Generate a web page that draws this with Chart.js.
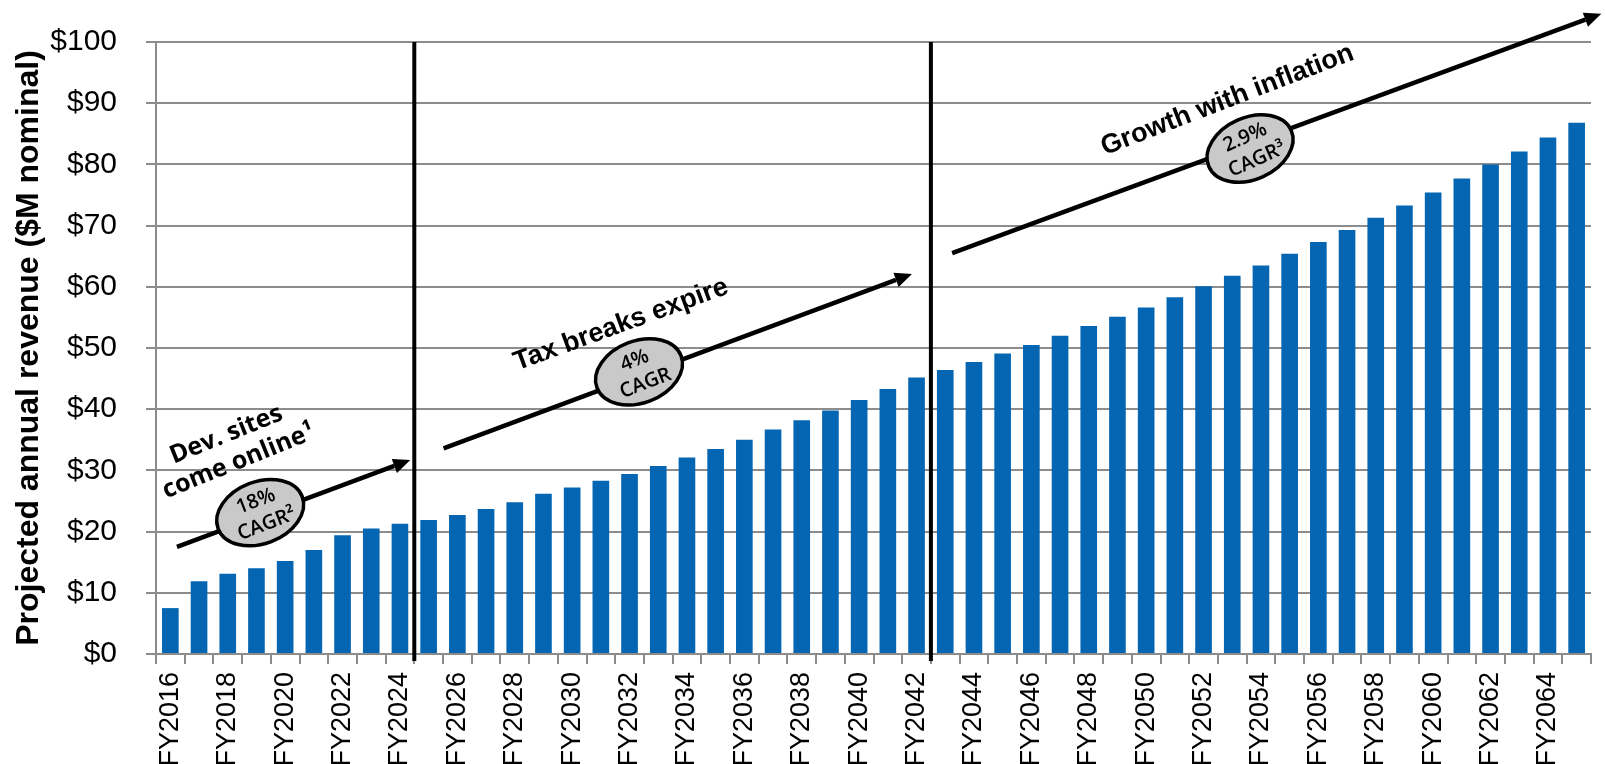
<!DOCTYPE html>
<html>
<head>
<meta charset="utf-8">
<script src="https://cdn.jsdelivr.net/npm/chart.js@4/dist/chart.umd.min.js"></script>
<style>
  html, body { margin: 0; padding: 0; background: #ffffff; }
  #wrap { width: 1605px; height: 764px; position: relative; }
</style>
</head>
<body>
<div id="wrap"><canvas id="c" width="1605" height="764"></canvas></div>
<script>
// ---------- DATA ----------
const years = [
  'FY2016','FY2017','FY2018','FY2019','FY2020','FY2021','FY2022','FY2023','FY2024','FY2025',
  'FY2026','FY2027','FY2028','FY2029','FY2030','FY2031','FY2032','FY2033','FY2034','FY2035',
  'FY2036','FY2037','FY2038','FY2039','FY2040','FY2041','FY2042','FY2043','FY2044','FY2045',
  'FY2046','FY2047','FY2048','FY2049','FY2050','FY2051','FY2052','FY2053','FY2054','FY2055',
  'FY2056','FY2057','FY2058','FY2059','FY2060','FY2061','FY2062','FY2063','FY2064','FY2065'
];
const revenue = [
  7.5, 11.9, 13.1, 14.0, 15.2, 17.0, 19.4, 20.5, 21.3, 21.9,
  22.7, 23.7, 24.8, 26.2, 27.2, 28.3, 29.4, 30.7, 32.1, 33.5,
  35.0, 36.7, 38.2, 39.8, 41.5, 43.3, 45.2, 46.4, 47.7, 49.1,
  50.5, 52.0, 53.6, 55.1, 56.6, 58.3, 60.1, 61.8, 63.5, 65.4,
  67.3, 69.3, 71.3, 73.3, 75.4, 77.7, 80.0, 82.1, 84.4, 86.8
];
const yTickValues = [0, 10, 20, 30, 40, 50, 60, 70, 80, 90, 100];
const phaseEnds = ['FY2024', 'FY2042'];          // last year of each phase
const phaseTitles = [['Dev. sites', 'come online\u00B9'], ['Tax breaks expire'], ['Growth with inflation']];
const phaseRates = [['18%', 'CAGR\u00B2'], ['4%', 'CAGR'], ['2.9%', 'CAGR\u00B3']];

// ---------- ANNOTATION LAYOUT (category index, $M value) ----------
const phaseLayout = [
  { from: [0.23, 17.5], to: [8.36, 31.7], badge: [3.13, 23.1], badgeRot: -21, textRot: -22,
    titleAt: [[1.95, 35.8], [2.38, 31.45]], titleFont: 'bold 25px "Open Sans", sans-serif' },
  { from: [9.52, 33.6], to: [25.84, 62.1], badge: [16.33, 46.1], badgeRot: -21, textRot: -20,
    titleAt: [[15.7, 53.8]], titleFont: 'bold 27px "Liberation Sans", Arial, sans-serif' },
  { from: [27.24, 65.5], to: [49.86, 104.6], badge: [37.62, 82.6], badgeRot: -24, textRot: -21,
    titleAt: [[36.83, 90.5]], titleFont: 'bold 27px "Liberation Sans", Arial, sans-serif' }
];

const annotPlugin = {
  id: 'annot',
  afterDraw(chart) {
    const { ctx, chartArea, scales: { x, y } } = chart;
    const P = (pt) => [x.getPixelForValue(pt[0]), y.getPixelForValue(pt[1])];
    ctx.save();
    // phase boundary lines
    phaseEnds.forEach(lbl => {
      const i = years.indexOf(lbl);
      const px = (x.getPixelForValue(i) + x.getPixelForValue(i + 1)) / 2;
      ctx.beginPath();
      ctx.moveTo(px, chartArea.top);
      ctx.lineTo(px, chartArea.bottom + 7);
      ctx.lineWidth = 4;
      ctx.strokeStyle = '#000';
      ctx.stroke();
    });
    phaseLayout.forEach((ph, k) => {
      const [x0, y0] = P(ph.from);
      const [x1, y1] = P(ph.to);
      const ang = Math.atan2(y1 - y0, x1 - x0);
      const L = 17, W = 7.5;
      const bx = x1 - L * Math.cos(ang), by = y1 - L * Math.sin(ang);
      ctx.strokeStyle = '#000';
      ctx.fillStyle = '#000';
      ctx.lineWidth = 4.5;
      ctx.lineCap = 'butt';
      ctx.beginPath(); ctx.moveTo(x0, y0); ctx.lineTo(bx, by); ctx.stroke();
      ctx.beginPath();
      ctx.moveTo(x1, y1);
      ctx.lineTo(bx - W * Math.sin(ang), by + W * Math.cos(ang));
      ctx.lineTo(bx + W * Math.sin(ang), by - W * Math.cos(ang));
      ctx.closePath(); ctx.fill();
      // badge ellipse
      const [cx, cy] = P(ph.badge);
      const rot = ph.badgeRot * Math.PI / 180;
      ctx.beginPath();
      ctx.ellipse(cx, cy, 45, 31, rot, 0, Math.PI * 2);
      ctx.fillStyle = '#C9C9C9';
      ctx.fill();
      ctx.lineWidth = 3.5;
      ctx.stroke();
      ctx.save();
      ctx.translate(cx, cy);
      ctx.rotate(rot);
      ctx.fillStyle = '#000';
      ctx.font = '600 20px "Open Sans", sans-serif';
      ctx.textAlign = 'center';
      ctx.textBaseline = 'middle';
      ctx.fillText(phaseRates[k][0], 0, -12);
      ctx.fillText(phaseRates[k][1], 2, 13);
      ctx.restore();
      // title text
      ph.titleAt.forEach((pt, j) => {
        const [tx, ty] = P(pt);
        ctx.save();
        ctx.translate(tx, ty);
        ctx.rotate(ph.textRot * Math.PI / 180);
        ctx.font = ph.titleFont;
        ctx.fillStyle = '#000';
        ctx.textAlign = 'center';
        ctx.textBaseline = 'middle';
        ctx.fillText(phaseTitles[k][j], 0, 0);
        ctx.restore();
      });
    });
    ctx.restore();
  }
};

Chart.defaults.font.family = '"Liberation Sans", Arial, sans-serif';
Chart.defaults.color = '#000';

new Chart(document.getElementById('c'), {
  type: 'bar',
  data: {
    labels: years,
    datasets: [{
      data: revenue,
      backgroundColor: '#0466B2',
      borderWidth: 0,
      categoryPercentage: 1.0,
      barPercentage: 0.58
    }]
  },
  options: {
    responsive: false,
    animation: false,
    devicePixelRatio: 1,
    layout: { padding: { top: 42, right: 14, left: 0, bottom: 0 } },
    plugins: { legend: { display: false }, tooltip: { enabled: false }, title: { display: false } },
    scales: {
      x: {
        grid: { display: true, drawOnChartArea: false, drawTicks: true, tickLength: 10,
                color: '#8c8c8c', lineWidth: 2, offset: true },
        border: { display: true, color: '#8c8c8c', width: 2 },
        ticks: {
          autoSkip: false, minRotation: 90, maxRotation: 90, padding: 8,
          font: { size: 27 },
          callback: (v, i) => (i % 2 === 0 ? years[i] : '')
        },
        afterFit: (s) => { s.height = 110; s.paddingLeft = 0; s.paddingRight = 0; }
      },
      y: {
        min: 0, max: 100,
        afterBuildTicks: (s) => { s.ticks = yTickValues.map(v => ({ value: v })); },
        grid: { color: '#8c8c8c', lineWidth: 2, tickLength: 10, drawTicks: true },
        border: { display: true, color: '#8c8c8c', width: 2 },
        ticks: { padding: 29, font: { size: 30 }, callback: (v) => '$' + v },
        title: {
          display: true,
          text: 'Projected annual revenue ($M nominal)',
          font: { size: 32, weight: 'bold' },
          padding: { top: 10, bottom: 0 }
        },
        afterFit: (s) => { s.width = 156; s.paddingTop = 0; s.paddingBottom = 0; }
      }
    }
  },
  plugins: [annotPlugin]
});
</script>
</body>
</html>
